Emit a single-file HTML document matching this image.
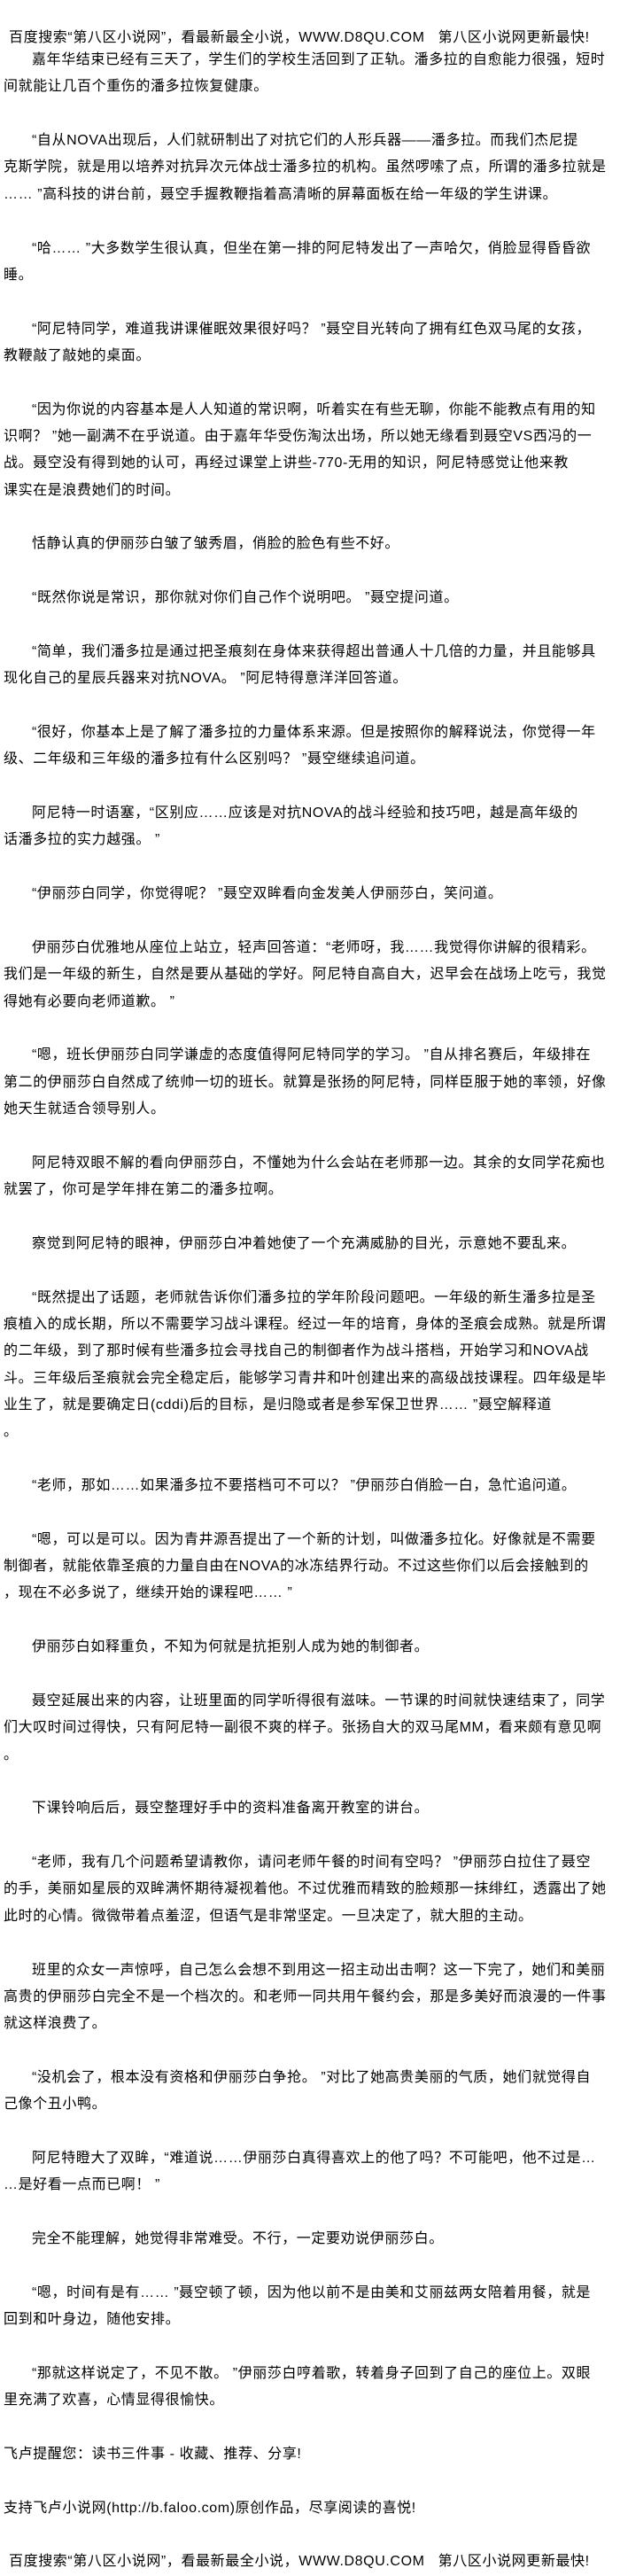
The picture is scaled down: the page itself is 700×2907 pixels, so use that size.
<!DOCTYPE html>
<html><head><meta charset="utf-8">
<style>
html,body{margin:0;padding:0;background:#fff;}
body{width:700px;height:2900px;overflow:hidden;position:relative;color:#000;
font-family:"Liberation Sans","Noto Sans CJK SC","WenQuanYi Zen Hei",sans-serif;font-size:16px;letter-spacing:0.6px;}
.t{position:absolute;left:10px;top:28px;line-height:30px;white-space:nowrap;}
#c{position:absolute;left:4px;top:53px;width:700px;}
#c div{height:30.37px;line-height:30.37px;white-space:nowrap;}
#c div.i{padding-left:32px;}
</style></head><body>
<div class="t">百度搜索“第八区小说网”，看最新最全小说，WWW.D8QU.COM&nbsp;&nbsp; 第八区小说网更新最快!</div>
<div id="c">
<div class="i">嘉年华结束已经有三天了，学生们的学校生活回到了正轨。潘多拉的自愈能力很强，短时</div>
<div>间就能让几百个重伤的潘多拉恢复健康。</div>
<div></div>
<div class="i">“自从NOVA出现后，人们就研制出了对抗它们的人形兵器——潘多拉。而我们杰尼提</div>
<div>克斯学院，就是用以培养对抗异次元体战士潘多拉的机构。虽然啰嗦了点，所谓的潘多拉就是</div>
<div>…… ”高科技的讲台前，聂空手握教鞭指着高清晰的屏幕面板在给一年级的学生讲课。</div>
<div></div>
<div class="i">“哈…… ”大多数学生很认真，但坐在第一排的阿尼特发出了一声哈欠，俏脸显得昏昏欲</div>
<div>睡。</div>
<div></div>
<div class="i">“阿尼特同学，难道我讲课催眠效果很好吗？ ”聂空目光转向了拥有红色双马尾的女孩，</div>
<div>教鞭敲了敲她的桌面。</div>
<div></div>
<div class="i">“因为你说的内容基本是人人知道的常识啊，听着实在有些无聊，你能不能教点有用的知</div>
<div>识啊？ ”她一副满不在乎说道。由于嘉年华受伤淘汰出场，所以她无缘看到聂空VS西冯的一</div>
<div>战。聂空没有得到她的认可，再经过课堂上讲些-770-无用的知识，阿尼特感觉让他来教</div>
<div>课实在是浪费她们的时间。</div>
<div></div>
<div class="i">恬静认真的伊丽莎白皱了皱秀眉，俏脸的脸色有些不好。</div>
<div></div>
<div class="i">“既然你说是常识，那你就对你们自己作个说明吧。 ”聂空提问道。</div>
<div></div>
<div class="i">“简单，我们潘多拉是通过把圣痕刻在身体来获得超出普通人十几倍的力量，并且能够具</div>
<div>现化自己的星辰兵器来对抗NOVA。 ”阿尼特得意洋洋回答道。</div>
<div></div>
<div class="i">“很好，你基本上是了解了潘多拉的力量体系来源。但是按照你的解释说法，你觉得一年</div>
<div>级、二年级和三年级的潘多拉有什么区别吗？ ”聂空继续追问道。</div>
<div></div>
<div class="i">阿尼特一时语塞，“区别应……应该是对抗NOVA的战斗经验和技巧吧，越是高年级的</div>
<div>话潘多拉的实力越强。 ”</div>
<div></div>
<div class="i">“伊丽莎白同学，你觉得呢？ ”聂空双眸看向金发美人伊丽莎白，笑问道。</div>
<div></div>
<div class="i">伊丽莎白优雅地从座位上站立，轻声回答道：“老师呀，我……我觉得你讲解的很精彩。</div>
<div>我们是一年级的新生，自然是要从基础的学好。阿尼特自高自大，迟早会在战场上吃亏，我觉</div>
<div>得她有必要向老师道歉。 ”</div>
<div></div>
<div class="i">“嗯，班长伊丽莎白同学谦虚的态度值得阿尼特同学的学习。 ”自从排名赛后，年级排在</div>
<div>第二的伊丽莎白自然成了统帅一切的班长。就算是张扬的阿尼特，同样臣服于她的率领，好像</div>
<div>她天生就适合领导别人。</div>
<div></div>
<div class="i">阿尼特双眼不解的看向伊丽莎白，不懂她为什么会站在老师那一边。其余的女同学花痴也</div>
<div>就罢了，你可是学年排在第二的潘多拉啊。</div>
<div></div>
<div class="i">察觉到阿尼特的眼神，伊丽莎白冲着她使了一个充满威胁的目光，示意她不要乱来。</div>
<div></div>
<div class="i">“既然提出了话题，老师就告诉你们潘多拉的学年阶段问题吧。一年级的新生潘多拉是圣</div>
<div>痕植入的成长期，所以不需要学习战斗课程。经过一年的培育，身体的圣痕会成熟。就是所谓</div>
<div>的二年级，到了那时候有些潘多拉会寻找自己的制御者作为战斗搭档，开始学习和NOVA战</div>
<div>斗。三年级后圣痕就会完全稳定后，能够学习青井和叶创建出来的高级战技课程。四年级是毕</div>
<div>业生了，就是要确定日(cddi)后的目标，是归隐或者是参军保卫世界…… ”聂空解释道</div>
<div>。</div>
<div></div>
<div class="i">“老师，那如……如果潘多拉不要搭档可不可以？ ”伊丽莎白俏脸一白，急忙追问道。</div>
<div></div>
<div class="i">“嗯，可以是可以。因为青井源吾提出了一个新的计划，叫做潘多拉化。好像就是不需要</div>
<div>制御者，就能依靠圣痕的力量自由在NOVA的冰冻结界行动。不过这些你们以后会接触到的</div>
<div>，现在不必多说了，继续开始的课程吧…… ”</div>
<div></div>
<div class="i">伊丽莎白如释重负，不知为何就是抗拒别人成为她的制御者。</div>
<div></div>
<div class="i">聂空延展出来的内容，让班里面的同学听得很有滋味。一节课的时间就快速结束了，同学</div>
<div>们大叹时间过得快，只有阿尼特一副很不爽的样子。张扬自大的双马尾MM，看来颇有意见啊</div>
<div>。</div>
<div></div>
<div class="i">下课铃响后后，聂空整理好手中的资料准备离开教室的讲台。</div>
<div></div>
<div class="i">“老师，我有几个问题希望请教你，请问老师午餐的时间有空吗？ ”伊丽莎白拉住了聂空</div>
<div>的手，美丽如星辰的双眸满怀期待凝视着他。不过优雅而精致的脸颊那一抹绯红，透露出了她</div>
<div>此时的心情。微微带着点羞涩，但语气是非常坚定。一旦决定了，就大胆的主动。</div>
<div></div>
<div class="i">班里的众女一声惊呼，自己怎么会想不到用这一招主动出击啊？这一下完了，她们和美丽</div>
<div>高贵的伊丽莎白完全不是一个档次的。和老师一同共用午餐约会，那是多美好而浪漫的一件事</div>
<div>就这样浪费了。</div>
<div></div>
<div class="i">“没机会了，根本没有资格和伊丽莎白争抢。 ”对比了她高贵美丽的气质，她们就觉得自</div>
<div>己像个丑小鸭。</div>
<div></div>
<div class="i">阿尼特瞪大了双眸，“难道说……伊丽莎白真得喜欢上的他了吗？不可能吧，他不过是…</div>
<div>…是好看一点而已啊！ ”</div>
<div></div>
<div class="i">完全不能理解，她觉得非常难受。不行，一定要劝说伊丽莎白。</div>
<div></div>
<div class="i">“嗯，时间有是有…… ”聂空顿了顿，因为他以前不是由美和艾丽兹两女陪着用餐，就是</div>
<div>回到和叶身边，随他安排。</div>
<div></div>
<div class="i">“那就这样说定了，不见不散。 ”伊丽莎白哼着歌，转着身子回到了自己的座位上。双眼</div>
<div>里充满了欢喜，心情显得很愉快。</div>
<div></div>
<div>飞卢提醒您：读书三件事 - 收藏、推荐、分享!</div>
<div></div>
<div>支持飞卢小说网(http://b.faloo.com)原创作品，尽享阅读的喜悦!</div>
<div></div>
<div style="padding-left:6px">百度搜索“第八区小说网”，看最新最全小说，WWW.D8QU.COM&nbsp;&nbsp; 第八区小说网更新最快!</div>
</div>
</body></html>
